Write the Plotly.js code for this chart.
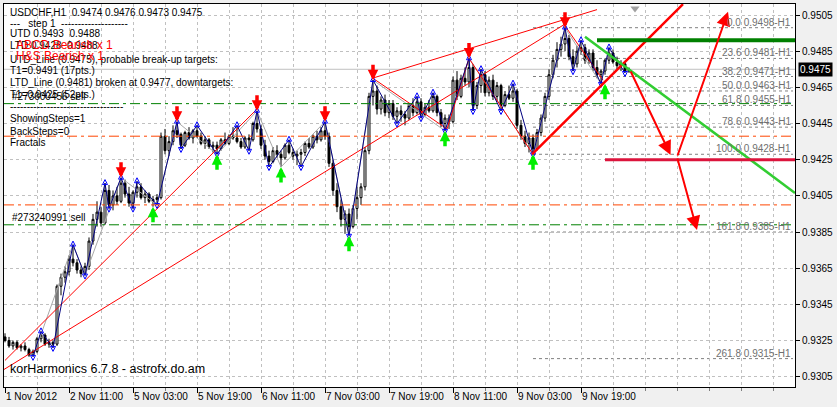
<!DOCTYPE html>
<html><head><meta charset="utf-8">
<script src="https://cdn.plot.ly/plotly-3.0.1.min.js"></script>
<style>html,body{margin:0;padding:0;background:#F0F0F0;}#chart{width:837px;height:407px;}</style>
</head><body><div id="chart"></div>
<script>
// ---------- DATA ----------
const tickLabels = ['1 Nov 2012','2 Nov 11:00','5 Nov 03:00','5 Nov 19:00','6 Nov 11:00','7 Nov 03:00','7 Nov 19:00','8 Nov 11:00','9 Nov 03:00','9 Nov 19:00'];
const yTicks = [0.9305,0.9325,0.9345,0.9365,0.9385,0.9405,0.9425,0.9445,0.9465,0.9485,0.9505];

const open = [.9327,.9325,.9322,.9324,.9321,.9322,.9320,.9317,.9319,.9326,.9328,.9323,.9324,.9323,.9355,.9360,.9363,.9370,.9368,.9364,
.9362,.9366,.9380,.9392,.9396,.9390,.9408,.9400,.9405,.9402,.9412,.9406,.9401,.9407,.9410,.9404,.9406,.9402,.9403,.9404,
.9438,.9430,.9435,.9441,.9439,.9433,.9440,.9437,.9441,.9438,.9434,.9436,.9432,.9433,.9431,.9436,.9434,.9438,.9437,.9435,
.9432,.9437,.9436,.9445,.9442,.9433,.9427,.9424,.9430,.9428,.9426,.9433,.9429,.9427,.9428,.9429,.9434,.9432,.9438,.9436,
.9441,.9438,.9423,.9408,.9399,.9392,.9395,.9388,.9398,.9404,.9410,.9430,.9460,.9463,.9453,.9458,.9451,.9456,.9449,.9452,
.9450,.9448,.9455,.9451,.9457,.9450,.9454,.9452,.9460,.9451,.9445,.9448,.9446,.9469,.9460,.9470,.9468,.9476,.9455,.9466,
.9472,.9462,.9469,.9460,.9466,.9455,.9461,.9459,.9463,.9444,.9438,.9434,.9437,.9431,.9440,.9448,.9460,.9472,.9480,.9486,
.9489,.9492,.9482,.9478,.9485,.9487,.9480,.9484,.9476,.9472,.9474,.9480,.9484,.9479,.9477,.9478,.9474];
const high = [.9329,.9327,.9325,.9325,.9323,.9324,.9321,.9320,.9327,.9330,.9329,.9326,.9325,.9356,.9362,.9366,.9372,.9378,.9370,.9366,
.9368,.9382,.9395,.9402,.9399,.9412,.9411,.9408,.9410,.9415,.9414,.9410,.9408,.9413,.9412,.9408,.9407,.9405,.9406,.9440,
.9442,.9438,.9444,.9446,.9440,.9441,.9443,.9442,.9444,.9440,.9438,.9437,.9435,.9435,.9437,.9440,.9439,.9443,.9444,.9437,
.9438,.9439,.9446,.9452,.9444,.9436,.9430,.9432,.9433,.9430,.9434,.9436,.9431,.9430,.9431,.9435,.9437,.9439,.9441,.9443,
.9446,.9440,.9425,.9412,.9403,.9397,.9398,.9400,.9410,.9412,.9432,.9462,.9469,.9466,.9460,.9461,.9458,.9458,.9454,.9455,
.9452,.9456,.9459,.9460,.9459,.9456,.9458,.9462,.9461,.9453,.9450,.9450,.9471,.9474,.9472,.9476,.9481,.9478,.9468,.9475,
.9474,.9471,.9472,.9468,.9467,.9463,.9466,.9467,.9464,.9447,.9441,.9440,.9439,.9442,.9450,.9462,.9475,.9483,.9490,.9493,
.9498,.9494,.9486,.9488,.9491,.9489,.9486,.9486,.9480,.9475,.9481,.9487,.9486,.9482,.9480,.9479,.9476];
const low = [.9324,.9321,.9320,.9320,.9319,.9319,.9316,.9316,.9318,.9324,.9322,.9321,.9321,.9322,.9350,.9357,.9361,.9366,.9362,.9360,
.9361,.9364,.9378,.9388,.9388,.9389,.9398,.9397,.9400,.9401,.9404,.9399,.9398,.9404,.9403,.9401,.9401,.9399,.9400,.9403,
.9428,.9427,.9433,.9437,.9431,.9432,.9436,.9434,.9437,.9433,.9431,.9431,.9429,.9428,.9430,.9433,.9433,.9436,.9434,.9431,
.9431,.9430,.9435,.9440,.9431,.9425,.9421,.9423,.9426,.9421,.9425,.9428,.9425,.9422,.9421,.9427,.9431,.9431,.9434,.9435,
.9436,.9421,.9405,.9396,.9388,.9384,.9383,.9387,.9392,.9400,.9408,.9428,.9455,.9450,.9450,.9449,.9448,.9447,.9445,.9446,
.9444,.9447,.9449,.9450,.9448,.9449,.9451,.9451,.9449,.9443,.9441,.9442,.9445,.9458,.9459,.9466,.9465,.9452,.9453,.9462,
.9460,.9460,.9458,.9457,.9452,.9454,.9458,.9457,.9442,.9436,.9432,.9429,.9428,.9430,.9438,.9446,.9458,.9470,.9476,.9482,
.9485,.9480,.9474,.9476,.9483,.9478,.9478,.9474,.9470,.9467,.9472,.9478,.9478,.9475,.9474,.9473,.9473];
const close = [.9325,.9322,.9324,.9321,.9322,.9320,.9317,.9319,.9326,.9328,.9323,.9324,.9323,.9355,.9360,.9363,.9370,.9368,.9364,.9362,
.9366,.9380,.9392,.9396,.9390,.9408,.9400,.9405,.9402,.9412,.9406,.9401,.9407,.9410,.9404,.9406,.9402,.9403,.9404,.9438,
.9430,.9435,.9441,.9439,.9433,.9440,.9437,.9441,.9438,.9434,.9436,.9432,.9433,.9431,.9436,.9434,.9438,.9437,.9435,.9432,
.9437,.9436,.9445,.9442,.9433,.9427,.9424,.9430,.9428,.9426,.9433,.9429,.9427,.9428,.9429,.9434,.9432,.9438,.9436,.9441,
.9438,.9423,.9408,.9399,.9392,.9395,.9388,.9398,.9404,.9410,.9430,.9460,.9463,.9453,.9458,.9451,.9456,.9449,.9452,.9450,
.9448,.9455,.9451,.9457,.9450,.9454,.9452,.9460,.9451,.9445,.9448,.9446,.9469,.9460,.9470,.9468,.9476,.9455,.9466,.9472,
.9462,.9469,.9460,.9466,.9455,.9461,.9459,.9463,.9444,.9438,.9434,.9437,.9431,.9440,.9448,.9460,.9472,.9480,.9486,.9489,
.9492,.9482,.9478,.9485,.9487,.9480,.9484,.9476,.9472,.9474,.9480,.9484,.9479,.9477,.9478,.9474,.9475];

// zigzag (blue) swing points: bar index, price, type (1 = high, -1 = low)
const zzBar   = [7,9,12,17,20,25,26,29,32,33,38,43,44,48,53,58,61,63,66,71,74,80,86,92,98,103,104,107,110,116,117,119,124,127,132,140,142,144,149,151,155];
const zzPrice = [.9316,.9330,.9321,.9378,.9361,.9412,.9398,.9415,.9398,.9413,.9400,.9446,.9431,.9444,.9428,.9444,.9430,.9452,.9421,.9436,.9421,.9446,.9383,.9469,.9445,.9460,.9448,.9462,.9441,.9481,.9452,.9475,.9452,.9467,.9428,.9498,.9474,.9491,.9467,.9487,.9473];
const zzType  = [-1,1,-1,1,-1,1,-1,1,-1,1,-1,1,-1,1,-1,1,-1,1,-1,1,-1,1,-1,1,-1,1,-1,1,-1,1,-1,1,-1,1,-1,1,-1,1,-1,1,-1];
// grey larger-degree zigzag
const gzBar   = [7,17,20,29,38,43,53,63,69,80,86,92,110,116,132,140,149];
const gzPrice = [.9316,.9378,.9361,.9415,.9400,.9446,.9428,.9452,.9421,.9446,.9383,.9469,.9441,.9481,.9428,.9498,.9467];
// big fractal arrows
const sellBar = [29,43,63,80,92,116,140];
const sellPrice = [.9415,.9446,.9452,.9446,.9469,.9481,.9498];
const buyBar = [37,53,69,86,110,132,150];
const buyPrice = [.9399,.9428,.9421,.9383,.9441,.9428,.9467];
// thin red pattern lines (segments separated by null)
const redBar   = [-0.25,140,null, 0,63,null, 91.75,148,null, 92,110.5,116,132,null, 140,149.5];
const redPrice = [.9309,.9500,null, .9314,.9453,null, .9470,.9508,null, .9470,.9442,.9481,.9428,null, .9499,.9469];
// thick trend lines
const upLineBar = [131.75,169.5], upLinePrice = [.9428,.9511];
const dnLineBar = [145,197.5],   dnLinePrice = [.9493,.94066];
// target levels
const upTarget = 0.9491, dnTarget = 0.9425;
const targetArrows = [[156.25,.94746,166.4,.94276],[168,.94265,180.75,.95068],[168,.94265,173,.93861]];
// order lines
const orderPrices = [0.9456,0.9389], orderNames = ['#273600456 sell','#273240991 sell'];
const slPrices = [0.9438,0.9400];
// fibonacci
const fibPct = ['0.0','23.6','38.2','50.0','61.8','78.6','100.0','161.8','261.8'];
const fibPrice = [0.9498,0.9481,0.9471,0.9463,0.9455,0.9443,0.9428,0.9385,0.9315];
const fibStartBar = 132;
const bid = 0.9475;
const infoLines = ['USDCHF,H1  0.9474 0.9476 0.9473 0.9475','---   step 1  --------------------','UTD 0.9493  0.9488','LTD 0.9428  0.9488',
 'UTD_Line (0.9475), probable break-up targets:','T1=0.9491 (17pts.)','LTD_Line (0.9481) broken at 0.9477, downtargets:','T1=0.9425 (52pts.)',
 '----------------------------------','ShowingSteps=1','BackSteps=0','Fractals'];
const patternLines = ['ABCD Bearish x 1','H&S Bearish x 1'];
const footer = 'korHarmonics 6.7.8 - astrofx.do.am';

// ---------- LAYOUT GEOMETRY ----------
const ML=4, MR=42, MT=4, MB=20, W=837, H=407;
const PW=W-ML-MR, PH=H-MT-MB;
const px = x => (x-ML)/PW, py = y => 1-(y-MT)/PH;
const X0=-0.25, X1=197.5, Y0=0.92993, Y1=0.95111;
const FONT = 'Liberation Sans, Arial, sans-serif';
const bars = close.map((_,i)=>i);

const traces = [];
traces.push({type:'candlestick', x:bars, open:open, high:high, low:low, close:close,
  increasing:{line:{color:'#000',width:1}, fillcolor:'#FFFFFF'},
  decreasing:{line:{color:'#000',width:1}, fillcolor:'#000000'},
  whiskerwidth:0, hoverinfo:'skip'});
traces.push({type:'scatter', mode:'lines', x:gzBar, y:gzPrice, line:{color:'#A8A8A8', width:1}, hoverinfo:'skip'});
traces.push({type:'scatter', mode:'lines', x:redBar, y:redPrice, line:{color:'#FF0000', width:1}, connectgaps:false, hoverinfo:'skip'});
traces.push({type:'scatter', mode:'lines', x:zzBar, y:zzPrice, line:{color:'#000080', width:1}, hoverinfo:'skip'});
const off = 0.0002;
traces.push({type:'scatter', mode:'markers', x:zzBar.filter((_,i)=>zzType[i]>0), y:zzPrice.filter((_,i)=>zzType[i]>0).map(v=>v+off),
  marker:{symbol:'arrow-up-open', size:5, color:'#0000FF', line:{color:'#0000FF', width:1}}, hoverinfo:'skip'});
traces.push({type:'scatter', mode:'markers', x:zzBar.filter((_,i)=>zzType[i]<0), y:zzPrice.filter((_,i)=>zzType[i]<0).map(v=>v-off),
  marker:{symbol:'arrow-down-open', size:5, color:'#0000FF', line:{color:'#0000FF', width:1}}, hoverinfo:'skip'});
traces.push({type:'scatter', mode:'lines', x:upLineBar, y:upLinePrice, line:{color:'#FF0000', width:2.5}, hoverinfo:'skip'});
traces.push({type:'scatter', mode:'lines', x:dnLineBar, y:dnLinePrice, line:{color:'#32CD32', width:2.5}, hoverinfo:'skip'});
traces.push({type:'scatter', mode:'lines', x:[148,X1], y:[upTarget,upTarget], line:{color:'#008000', width:4}, hoverinfo:'skip'});
traces.push({type:'scatter', mode:'lines', x:[150,X1], y:[dnTarget,dnTarget], line:{color:'#DC143C', width:3}, hoverinfo:'skip'});
traces.push({type:'scatter', mode:'markers', x:[157.5], y:[Y1-0.00025], marker:{symbol:'triangle-down', size:8, color:'#A0A0A0'}, cliponaxis:false, hoverinfo:'skip'});

const shapes = [];
shapes.push({type:'line', xref:'paper', yref:'y', x0:0, x1:1, y0:bid, y1:bid, line:{color:'#C0C0C0', width:1}, layer:'below'});
orderPrices.forEach(p=>shapes.push({type:'line', xref:'paper', yref:'y', x0:0, x1:1, y0:p, y1:p, line:{color:'#008000', width:1, dash:'10px,4px,3px,4px'}, layer:'above'}));
slPrices.forEach(p=>shapes.push({type:'line', xref:'paper', yref:'y', x0:0, x1:1, y0:p, y1:p, line:{color:'#FF4500', width:1, dash:'10px,4px,3px,4px'}, layer:'above'}));
fibPrice.forEach(p=>shapes.push({type:'line', xref:'x', yref:'y', x0:fibStartBar, x1:197, y0:p, y1:p, line:{color:'#808080', width:1, dash:'3px,3px'}, layer:'below'}));

const ann = [];
// big fractal arrows
sellBar.forEach((b,i)=>ann.push({x:b, y:sellPrice[i], xref:'x', yref:'y', text:'', showarrow:true, ax:0, ay:-17, arrowhead:2, arrowsize:0.6, arrowwidth:3.5, arrowcolor:'#FF0000', standoff:0}));
buyBar.forEach((b,i)=>ann.push({x:b, y:buyPrice[i], xref:'x', yref:'y', text:'', showarrow:true, ax:0, ay:17, arrowhead:2, arrowsize:0.6, arrowwidth:3.5, arrowcolor:'#00EE00', standoff:0}));
// target arrows
targetArrows.forEach(a=>ann.push({x:a[2], y:a[3], ax:a[0], ay:a[1], xref:'x', yref:'y', axref:'x', ayref:'y', text:'', showarrow:true, arrowhead:2, arrowsize:1.4, arrowwidth:2, arrowcolor:'#FF0000', standoff:0}));
// fib labels
fibPct.forEach((f,i)=>ann.push({x:197, y:fibPrice[i], xref:'x', yref:'y', xanchor:'right', yanchor:'bottom', yshift:-2, showarrow:false,
  text:f+' '+fibPrice[i].toFixed(4)+'-H1', font:{family:FONT, size:10, color:'#707070'}}));
// info text
const infoY = [12.7,23.3,34,45.3,59.3,70.7,82.7,94.3,106.7,118.3,131.7,142.7];
infoLines.forEach((t,i)=>ann.push({x:px(8), y:py(infoY[i]), xref:'paper', yref:'paper', xanchor:'left', yanchor:'middle', showarrow:false, text:t, font:{family:FONT, size:10, color:'#000'}}));
ann.push({x:px(14), y:py(45), xref:'paper', yref:'paper', xanchor:'left', yanchor:'middle', showarrow:false, text:patternLines[0], font:{family:FONT, size:12, color:'#FF0000'}});
ann.push({x:px(14), y:py(56), xref:'paper', yref:'paper', xanchor:'left', yanchor:'middle', showarrow:false, text:patternLines[1], font:{family:FONT, size:12, color:'#FF0000'}});
orderPrices.forEach((p,i)=>ann.push({x:px(10), y:p, xref:'paper', yref:'y', xanchor:'left', yanchor:'bottom', yshift:0, showarrow:false, text:orderNames[i], font:{family:FONT, size:10, color:'#000'}}));
ann.push({x:px(8), y:py(369.3), xref:'paper', yref:'paper', xanchor:'left', yanchor:'middle', showarrow:false, text:footer, font:{family:FONT, size:12.5, color:'#000'}});
// current price box
ann.push({x:1, y:bid, xref:'paper', yref:'y', xanchor:'left', yanchor:'middle', xshift:3, showarrow:false, text:bid.toFixed(4), bgcolor:'#000', borderpad:1, font:{family:FONT, size:10, color:'#FFF'}});

const layout = {
  width:W, height:H, margin:{l:ML, r:MR, t:MT, b:MB, pad:0},
  paper_bgcolor:'#F0F0F0', plot_bgcolor:'#FFFFFF', showlegend:false, hovermode:false,
  font:{family:FONT, size:10, color:'#000'},
  xaxis:{range:[X0,X1], rangeslider:{visible:false}, tickmode:'array', tickvals:tickLabels.map((_,i)=>i*16), ticktext:tickLabels,
    ticks:'outside', ticklen:5, tickcolor:'#000', ticklabelposition:'outside right', tickfont:{family:FONT, size:10},
    showgrid:true, gridcolor:'#C0C0C0', griddash:'3px,3px', gridwidth:1, zeroline:false,
    showline:true, mirror:true, linecolor:'#000', linewidth:1,
    minor:{tickmode:'linear', tick0:0, dtick:8, ticks:'outside', ticklen:3, tickcolor:'#808080', showgrid:true, gridcolor:'#C0C0C0', griddash:'3px,3px'}},
  yaxis:{range:[Y0,Y1], side:'right', tickmode:'array', tickvals:yTicks, ticktext:yTicks.map(v=>v.toFixed(4)),
    ticks:'outside', ticklen:4, tickcolor:'#000', tickfont:{family:FONT, size:10},
    showgrid:true, gridcolor:'#C0C0C0', griddash:'3px,3px', zeroline:false,
    showline:true, mirror:true, linecolor:'#000', linewidth:1},
  shapes:shapes, annotations:ann
};
Plotly.newPlot('chart', traces, layout, {displayModeBar:false, staticPlot:true});
</script></body></html>
